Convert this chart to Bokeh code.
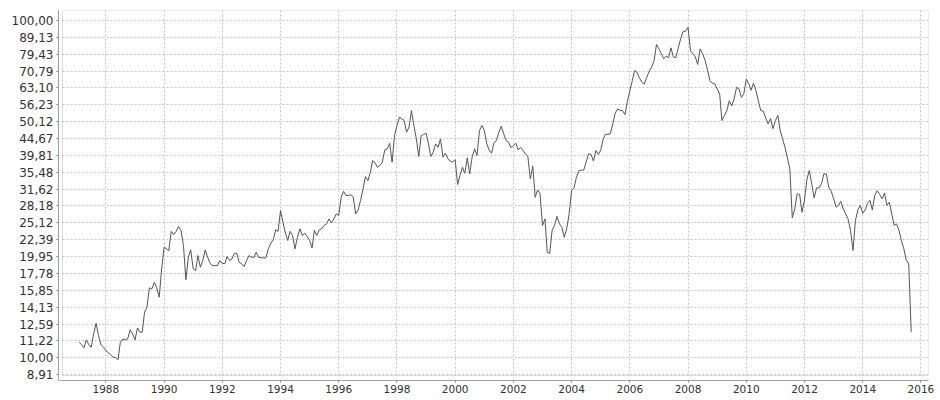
import pandas as pd
from bokeh.plotting import figure
from bokeh.models import (FixedTicker, CustomJSTickFormatter, BoxAnnotation, Range1d,
                          DatetimeTickFormatter, ColumnDataSource)
from bokeh.embed import file_html
from bokeh.resources import INLINE

# ---------------- data ----------------
first_month = "1987-02-01"   # monthly series, first observation
values = [
    11.11, 10.94, 10.70, 11.30, 10.94, 10.74, 11.77, 12.66, 11.63, 10.92, 10.74,            # 1987 (Feb-Dec)
    10.50, 10.35, 10.22, 10.03, 10.03, 9.86, 11.11, 11.37, 11.30, 11.37, 12.10, 11.77,      # 1988
    11.30, 12.26, 11.91, 11.91, 13.65, 14.19, 16.12, 16.01, 16.75, 16.12, 15.12, 18.35,     # 1989
    21.27, 21.03, 20.78, 23.70, 23.20, 23.70, 24.50, 23.84, 21.52, 17.02, 19.86, 20.88,     # 1990
    18.35, 18.14, 20.09, 18.55, 19.41, 20.88, 19.86, 19.06, 18.76, 18.76, 18.76, 19.41,     # 1991
    19.06, 18.99, 19.95, 19.41, 19.64, 20.40, 20.40, 19.18, 18.99, 18.64, 19.41, 20.09,     # 1992
    19.86, 19.86, 20.55, 19.86, 19.78, 19.78, 19.78, 21.03, 21.86, 22.37, 23.95, 23.70,     # 1993
    27.33, 25.22, 23.52, 22.27, 23.70, 23.04, 21.03, 22.77, 24.11, 23.04, 23.40, 22.88,     # 1994
    22.27, 21.17, 23.84, 23.04, 23.95, 24.11, 24.67, 24.95, 25.81, 25.10, 25.81, 26.71,     # 1995
    26.40, 29.92, 31.17, 30.27, 30.27, 30.47, 29.92, 26.71, 27.45, 29.26, 31.69, 34.45,     # 1996
    33.50, 35.48, 38.45, 37.78, 36.71, 37.15, 38.02, 41.35, 41.64, 43.26, 38.02, 45.60,     # 1997
    48.86, 51.70, 51.12, 50.50, 46.65, 48.33, 54.07, 48.86, 44.58, 39.51, 45.60, 45.90,     # 1998
    46.30, 43.06, 39.51, 40.70, 43.06, 42.07, 44.58, 39.33, 40.42, 38.90, 38.30, 38.02,     # 1999
    38.65, 32.63, 34.70, 36.71, 35.24, 39.17, 35.10, 39.33, 41.64, 39.80, 47.20, 48.86,     # 2000
    47.20, 43.06, 41.35, 40.42, 43.26, 44.07, 46.50, 48.60, 46.15, 44.07, 43.56, 42.00,     # 2001
    42.58, 43.26, 41.35, 42.07, 41.19, 40.24, 39.51, 33.89, 37.00, 29.92, 31.47, 30.63,     # 2002
    24.67, 25.81, 20.55, 20.40, 23.84, 24.67, 26.25, 24.95, 24.38, 22.77, 24.11, 26.71,     # 2003
    31.32, 31.90, 34.29, 35.90, 36.00, 36.00, 38.02, 40.24, 40.05, 38.30, 41.15, 40.05,     # 2004
    41.35, 44.58, 45.98, 45.98, 46.15, 49.41, 53.10, 54.70, 54.10, 54.10, 52.60, 57.60,     # 2005
    61.98, 66.40, 71.10, 70.25, 67.60, 65.60, 64.80, 67.90, 70.80, 72.70, 76.10, 84.90,     # 2006
    82.40, 79.60, 77.10, 78.30, 77.60, 83.00, 78.00, 77.60, 83.30, 88.30, 92.90, 92.90,     # 2007
    95.50, 81.50, 79.70, 78.00, 74.10, 82.40, 79.70, 76.30, 71.40, 66.40, 65.20, 64.90,     # 2008
    62.70, 60.60, 50.50, 52.30, 53.90, 57.80, 55.80, 58.50, 63.40, 62.70, 59.20, 60.60,     # 2009
    67.10, 64.90, 62.10, 65.20, 62.10, 57.80, 54.10, 53.90, 51.40, 49.40, 51.20, 47.80,     # 2010
    50.50, 52.30, 47.30, 44.60, 42.10, 39.10, 36.30, 26.00, 27.65, 30.63, 30.47, 27.00,     # 2011
    29.40, 33.89, 35.90, 32.80, 29.80, 31.90, 31.90, 32.80, 35.10, 35.10, 32.00, 31.20,     # 2012
    29.60, 27.95, 28.30, 29.10, 27.65, 26.70, 25.80, 23.85, 20.80, 25.50, 27.45, 28.30,     # 2013
    26.80, 27.45, 28.70, 29.30, 27.45, 30.30, 31.30, 30.50, 29.60, 30.80, 28.30, 28.90,     # 2014
    26.60, 24.67, 24.95, 23.85, 22.27, 21.03, 19.50, 18.99, 11.91,                          # 2015 (Jan-Sep)
]

x_tick_years = [1988, 1990, 1992, 1994, 1996, 1998, 2000, 2002, 2004, 2006, 2008,
                2010, 2012, 2014, 2016]
y_tick_values = [8.9125, 10.0, 11.2202, 12.5893, 14.1254, 15.8489, 17.7828, 19.9526,
                 22.3872, 25.1189, 28.1838, 31.6228, 35.4813, 39.8107, 44.6684, 50.1187,
                 56.2341, 63.0957, 70.7946, 79.4328, 89.1251, 100.0]
y_tick_labels = ["8,91", "10,00", "11,22", "12,59", "14,13", "15,85", "17,78", "19,95",
                 "22,39", "25,12", "28,18", "31,62", "35,48", "39,81", "44,67", "50,12",
                 "56,23", "63,10", "70,79", "79,43", "89,13", "100,00"]

# ---------------- figure ----------------
dates = pd.date_range(first_month, periods=len(values), freq="MS")
src = ColumnDataSource(dict(date=dates, value=values))

def ms(s):
    return pd.Timestamp(s).value / 1e6

x_start, x_end = ms("1986-05-17"), ms("2016-04-05")
inner_left = ms("1986-07-06")
y_start, y_end = 8.56, 107.1
inner_bottom = 8.85

p = figure(width=936, height=398, x_axis_type="datetime", y_axis_type="log",
           x_range=Range1d(x_start, x_end), y_range=Range1d(y_start, y_end),
           output_backend="svg", toolbar_location=None,
           min_border_left=58, min_border_right=8, min_border_top=10, min_border_bottom=18)
p.background_fill_color = "white"
p.border_fill_color = "white"
p.outline_line_color = None

xt = FixedTicker(ticks=[ms(f"{y}-01-01") for y in x_tick_years])
p.xaxis.ticker = xt
p.xgrid.ticker = xt
p.xaxis.formatter = DatetimeTickFormatter(years="%Y", months="%Y", days="%Y", hours="%Y",
                                          minutes="%Y", seconds="%Y", milliseconds="%Y")

yt = FixedTicker(ticks=y_tick_values, minor_ticks=[])
p.yaxis.ticker = yt
p.ygrid.ticker = yt
p.yaxis.formatter = CustomJSTickFormatter(args=dict(vals=y_tick_values, labs=y_tick_labels), code="""
let best = 0, bd = Infinity;
for (let i = 0; i < vals.length; i++) { const d = Math.abs(vals[i] - tick); if (d < bd) { bd = d; best = i; } }
return labs[best];
""")

for ax in (p.xaxis[0], p.yaxis[0]):
    ax.axis_line_color = "#808080"
    ax.axis_line_width = 1
    ax.major_tick_in = 0
    ax.major_tick_out = 2
    ax.major_tick_line_color = "#808080"
    ax.minor_tick_in = 0
    ax.minor_tick_out = 0
    ax.major_label_text_font = "DejaVu Sans"
    ax.major_label_text_color = "#333333"

p.xaxis.major_label_text_font_size = "10.5px"
p.xaxis.major_label_standoff = 2
p.yaxis.major_label_text_font_size = "12px"
p.yaxis.major_label_standoff = 3

for g in (p.xgrid[0], p.ygrid[0]):
    g.grid_line_color = "#c4c4c4"
    g.grid_line_dash = "2 2"
    g.grid_line_width = 1

p.line("date", "value", source=src, line_color="#555555", line_width=1)

# white gap between the axis lines and the plot box, then the plot box border
p.add_layout(BoxAnnotation(right=inner_left, fill_color="white", fill_alpha=1, line_color=None))
p.add_layout(BoxAnnotation(top=inner_bottom, fill_color="white", fill_alpha=1, line_color=None))
p.add_layout(BoxAnnotation(left=inner_left, bottom=inner_bottom, fill_alpha=0, fill_color=None,
                           line_color="#808080", line_width=1))

open("out.html", "w").write(file_html(p, INLINE))
